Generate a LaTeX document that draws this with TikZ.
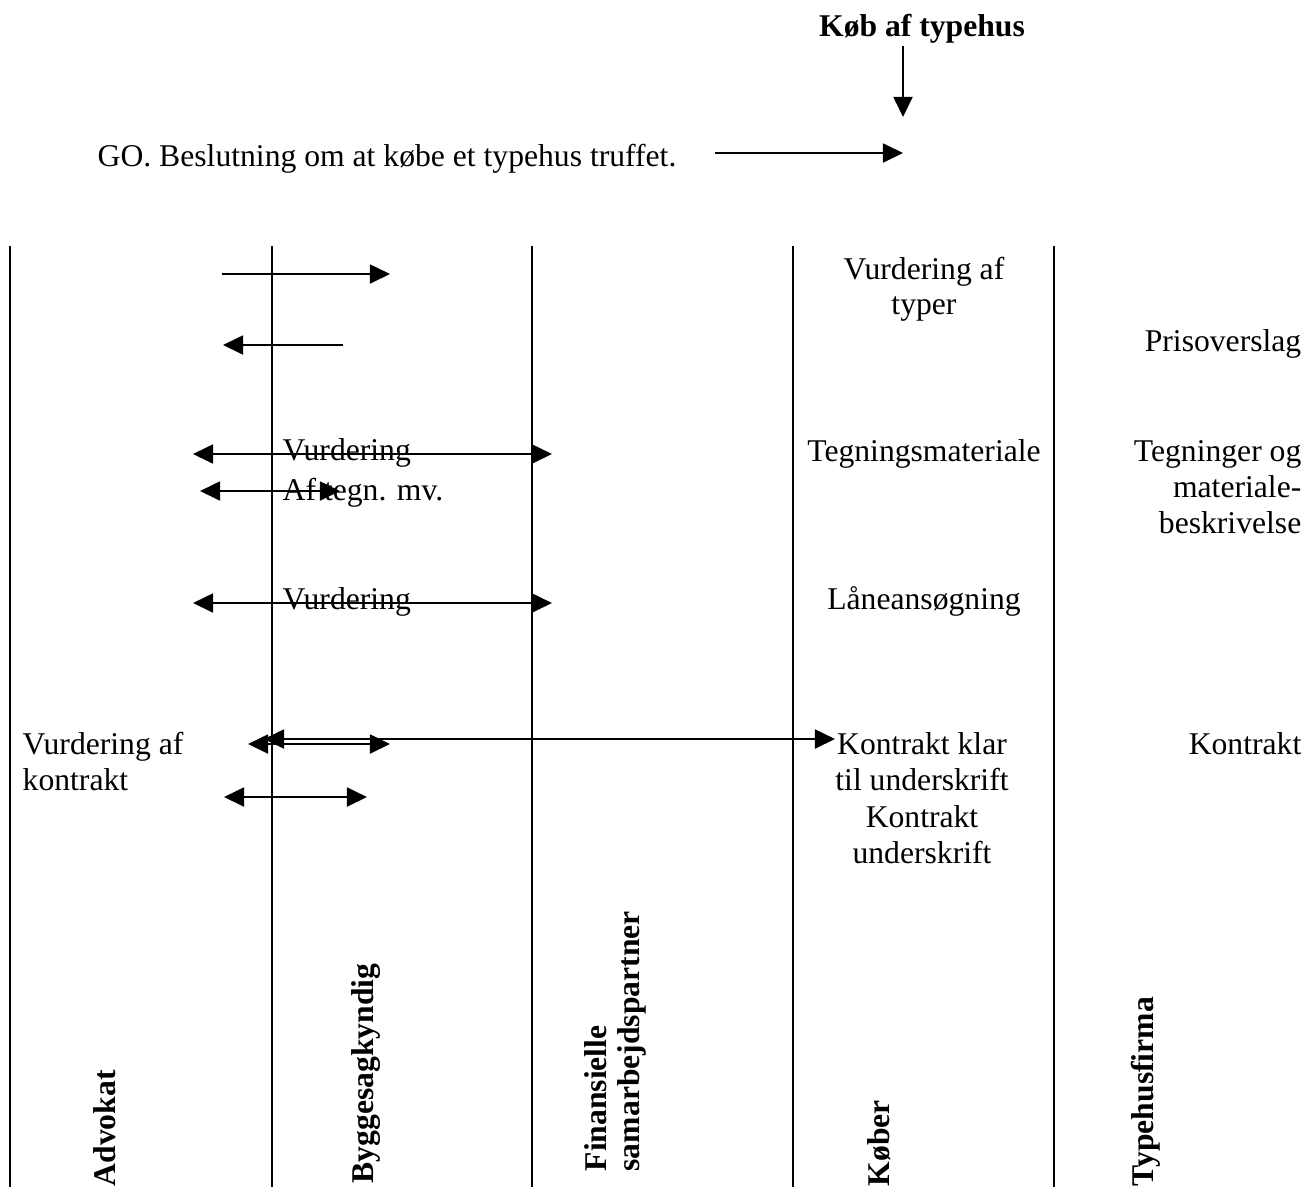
\documentclass[tikz,border=0pt]{standalone}
\usepackage{fontspec}
\setmainfont{Liberation Serif}
\usetikzlibrary{arrows.meta}
\begin{document}
\begin{tikzpicture}[x=0.01cm,y=-0.01cm,
  txt/.style={inner sep=0pt, font=\fontsize{9pt}{10.4pt}\selectfont},
  headline/.style={inner sep=0pt, font=\fontsize{9pt}{10.4pt}\selectfont\bfseries},
  lane/.style={line width=0.7pt},
  tip/.style={line width=0.55pt, -{Triangle[length=5.7pt,width=5.4pt]}},
  both/.style={line width=0.55pt, {Triangle[length=5.7pt,width=5.4pt]}-{Triangle[length=5.7pt,width=5.4pt]}},
  role/.style={inner sep=0pt, font=\fontsize{9pt}{10.4pt}\selectfont\bfseries, rotate=90, anchor=base west}]
\useasboundingbox (0,0) rectangle (1306,1187);

% heading and the starting decision
\node[headline, anchor=base] (title) at (922,36) {Køb af typehus};
\coordinate (titlefrom) at (903,46);
\coordinate (titleto) at (903,117);
\draw[tip] (titlefrom) -- (titleto);

\node[txt, anchor=base west] (go) at (97,166) {GO. Beslutning om at købe et typehus truffet.};
\coordinate (gofrom) at (715,153);
\coordinate (goto) at (903,153);
\draw[tip] (gofrom) -- (goto);

% swim lanes
\foreach \n/\x in {adv/10,byg/272,fin/532,kob/793,typ/1054}{
  \coordinate (\n top) at (\x,246);
  \coordinate (\n bot) at (\x,1187);
  \draw[lane] (\n top) -- (\n bot);
}

% texts inside the lanes
\node[txt, anchor=base] (vt1) at (924,279) {Vurdering af};
\node[txt, anchor=base] (vt2) at (924,314) {typer};
\node[txt, anchor=base east] (pris) at (1302,351) {Prisoverslag};

\node[txt, anchor=base west] (vur1) at (282,460) {Vurdering};
\node[txt, anchor=base west] (aftegn) at (282,500) {Af tegn. mv.};
\node[txt, anchor=base] (tegm) at (924,461) {Tegningsmateriale};
\node[txt, anchor=base east] (teg1) at (1302,461) {Tegninger og};
\node[txt, anchor=base east] (teg2) at (1302,497) {materiale-};
\node[txt, anchor=base east] (teg3) at (1302,533) {beskrivelse};

\node[txt, anchor=base west] (vur2) at (282,609) {Vurdering};
\node[txt, anchor=base] (laan) at (924,609) {Låneansøgning};

\node[txt, anchor=base west] (vk1) at (22,754) {Vurdering af};
\node[txt, anchor=base west] (vk2) at (22,790) {kontrakt};
\node[txt, anchor=base] (kk1) at (922,754) {Kontrakt klar};
\node[txt, anchor=base] (kk2) at (922,790) {til underskrift};
\node[txt, anchor=base] (kk3) at (922,827) {Kontrakt};
\node[txt, anchor=base] (kk4) at (922,863) {underskrift};
\node[txt, anchor=base east] (kon) at (1302,754) {Kontrakt};

% role names at the foot of each lane
\node[role] (radv) at (115,1187) {Advokat};
\node[role] (rbyg) at (373,1184) {Byggesagkyndig};
\node[role] (rfin1) at (606,1172) {Finansielle};
\node[role] (rfin2) at (639,1172) {samarbejdspartner};
\node[role] (rkob) at (889,1187) {Køber};
\node[role] (rtyp) at (1153,1187) {Typehusfirma};

% exchanges between the parties
\coordinate (a1l) at (222,274);  \coordinate (a1r) at (390,274);
\draw[tip] (a1l) -- (a1r);
\coordinate (a2l) at (223,345);  \coordinate (a2r) at (343,345);
\draw[tip] (a2r) -- (a2l);
\coordinate (a3l) at (193,454);  \coordinate (a3r) at (552,454);
\draw[both] (a3l) -- (a3r);
\coordinate (a4l) at (200,491);  \coordinate (a4r) at (340,491);
\draw[both] (a4l) -- (a4r);
\coordinate (a5l) at (193,603);  \coordinate (a5r) at (552,603);
\draw[both] (a5l) -- (a5r);
\coordinate (a6l) at (248,744);  \coordinate (a6r) at (390,744);
\draw[both] (a6l) -- (a6r);
\coordinate (a7l) at (264,739);  \coordinate (a7r) at (835,739);
\draw[both] (a7l) -- (a7r);
\coordinate (a8l) at (224,797);  \coordinate (a8r) at (367,797);
\draw[both] (a8l) -- (a8r);
\end{tikzpicture}
\end{document}
